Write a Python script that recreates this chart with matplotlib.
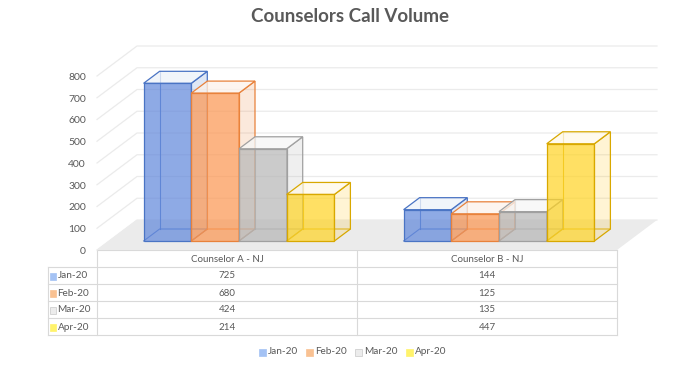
import matplotlib
matplotlib.use('Agg')
import matplotlib.pyplot as plt
from matplotlib.patches import Polygon, Rectangle
from matplotlib.lines import Line2D

# ---------------- data ----------------
categories = ['Counselor A - NJ', 'Counselor B - NJ']
series_names = ['Jan-20', 'Feb-20', 'Mar-20', 'Apr-20']
jan_values = [725, 144]
feb_values = [680, 125]
mar_values = [424, 135]
apr_values = [214, 447]
y_ticks = [0, 100, 200, 300, 400, 500, 600, 700, 800]
title = 'Counselors Call Volume'

series_values = [jan_values, feb_values, mar_values, apr_values]

# ---------------- styles ----------------
base_colors = ['#4472c4', '#ed7d31', '#a5a5a5', '#ffc000']
front_colors = ['#5f86db', '#fc954f', '#b6b6b6', '#ffd422']
edge_draw = ['#4a74c4', '#e8823c', '#a0a0a0', '#d8a800']
key_colors = ['#a4c2f4', '#f9c192', '#ececec', '#fff36b']
key_edges = ['#a4c2f4', '#f9c192', '#c8c8c8', '#fff36b']
TXT = '#595959'
GRID = '#ebebeb'
FONT = 'Lato'
plt.rcParams['font.family'] = [FONT, 'DejaVu Sans']

W, H = 700, 367
fig = plt.figure(figsize=(7, 3.67), dpi=100)

# overlay axes in pixel coordinates (title, table, legend)
ov = fig.add_axes([0, 0, 1, 1])
ov.set_xlim(0, W)
ov.set_ylim(H, 0)
ov.axis('off')

# main axes: front plane of the bars
FRONT_L, FRONT_R = 109, 629
BASE_Y, TOP_Y = 241, 67
ax = fig.add_axes([FRONT_L / W, (H - BASE_Y) / H,
                   (FRONT_R - FRONT_L) / W, (BASE_Y - TOP_Y) / H])
ax.set_xlim(-0.5, len(categories) - 0.5)
ax.set_ylim(y_ticks[0], y_ticks[-1])
ax.axis('off')

px_per_cat = (FRONT_R - FRONT_L) / len(categories)
px_per_val = (BASE_Y - TOP_Y) / (y_ticks[-1] - y_ticks[0])
DEPTH_X, DEPTH_Y = 40.0, 30.0
Z_FRONT, Z_BACK = 0.3, 0.7


def P(x, v, z):
    dxp = DEPTH_X * (z - Z_FRONT)
    dyp = DEPTH_Y * (z - Z_FRONT)
    return (x + dxp / px_per_cat, v + dyp / px_per_val)


xl, xr = -0.5, len(categories) - 0.5

# gridlines (side wall + back wall)
for v in y_ticks:
    pts = [P(xl, v, 0), P(xl, v, 1), P(xr, v, 1)]
    ax.add_line(Line2D([p[0] for p in pts], [p[1] for p in pts],
                       color=GRID, lw=0.9, clip_on=False, zorder=1))

# floor
ax.add_patch(Polygon([P(xl, 0, 0), P(xr, 0, 0), P(xr, 0, 1), P(xl, 0, 1)],
                     closed=True, facecolor='#ebebeb', edgecolor='none',
                     clip_on=False, zorder=2))

# y tick labels at front floor plane
for v in y_ticks:
    x, y = P(xl, v, 0)
    ax.text(x - 11 / px_per_cat, y - 1.5 / px_per_val, str(v), ha='right', va='center',
            fontsize=7.5, color=TXT, clip_on=False)

# bars
bar_w = 47.7 / px_per_cat
n = len(series_values)
z = 3
for ci in range(len(categories)):
    for si in range(n):
        h = series_values[si][ci]
        x0 = ci - n * bar_w / 2 + si * bar_w
        x1 = x0 + bar_w
        ec = edge_draw[si]
        base = base_colors[si]
        # hidden back edges
        for seg in ([P(x0, 0, Z_FRONT), P(x0, 0, Z_BACK), P(x1, 0, Z_BACK)],
                    [P(x0, 0, Z_BACK), P(x0, h, Z_BACK)]):
            ax.add_line(Line2D([p[0] for p in seg], [p[1] for p in seg],
                               color=ec, lw=0.8, alpha=0.85, clip_on=False, zorder=z))
        # right side face
        side = [P(x1, 0, Z_FRONT), P(x1, 0, Z_BACK), P(x1, h, Z_BACK), P(x1, h, Z_FRONT)]
        ax.add_patch(Polygon(side, closed=True, facecolor=base, alpha=0.17,
                             edgecolor='none', clip_on=False, zorder=z))
        ax.add_patch(Polygon(side, closed=True, facecolor='none', edgecolor=ec,
                             lw=0.9, clip_on=False, zorder=z))
        # top face
        top = [P(x0, h, Z_FRONT), P(x1, h, Z_FRONT), P(x1, h, Z_BACK), P(x0, h, Z_BACK)]
        ax.add_patch(Polygon(top, closed=True, facecolor='white', alpha=0.75,
                             edgecolor='none', clip_on=False, zorder=z))
        ax.add_patch(Polygon(top, closed=True, facecolor=base, alpha=0.07,
                             edgecolor='none', clip_on=False, zorder=z))
        ax.add_patch(Polygon(top, closed=True, facecolor='none', edgecolor=ec,
                             lw=0.9, clip_on=False, zorder=z))
        # front face
        ax.add_patch(Rectangle((x0, 0), bar_w, h, facecolor=front_colors[si], alpha=0.7,
                               edgecolor='none', clip_on=False, zorder=z))
        ax.add_patch(Rectangle((x0, 0), bar_w, h, facecolor='none', edgecolor=ec,
                               lw=0.9, clip_on=False, zorder=z))
        z += 1

# ---------------- title ----------------
ov.text(350, 17, title, ha='center', va='center', fontsize=13.5,
        fontweight='bold', color=TXT)

# ---------------- data table ----------------
TB_L, TB_LAB, TB_R = 48, 97, 617
TB_TOP, ROW_H = 250, 17
col_w = (TB_R - TB_LAB) / len(categories)
LINE_C = '#d9d9d9'
nrows = len(series_names)
bottom = TB_TOP + ROW_H * (nrows + 1)
ov.plot([TB_LAB, TB_R], [TB_TOP, TB_TOP], color=LINE_C, lw=0.8)
for r in range(1, nrows + 2):
    y = TB_TOP + r * ROW_H
    ov.plot([TB_L, TB_R], [y, y], color=LINE_C, lw=0.8)
ov.plot([TB_L, TB_L], [TB_TOP + ROW_H, bottom], color=LINE_C, lw=0.8)
for c in range(len(categories) + 1):
    x = TB_LAB + c * col_w
    ov.plot([x, x], [TB_TOP, bottom], color=LINE_C, lw=0.8)
for c, cat in enumerate(categories):
    ov.text(TB_LAB + (c + 0.5) * col_w, TB_TOP + ROW_H / 2 + 0.5, cat,
            ha='center', va='center', fontsize=7, color=TXT)
for r, name in enumerate(series_names):
    yc = TB_TOP + (r + 1.5) * ROW_H + 0.5
    ov.add_patch(Rectangle((TB_L + 1.5, yc - 3.5), 6, 7, facecolor=key_colors[r],
                           edgecolor=key_edges[r], lw=0.5))
    ov.text(TB_L + 9.5, yc, name, ha='left', va='center', fontsize=7.2, color=TXT)
    for c in range(len(categories)):
        ov.text(TB_LAB + (c + 0.5) * col_w, yc, str(series_values[r][c]),
                ha='center', va='center', fontsize=7, color=TXT)

# ---------------- legend ----------------
leg_x = [259, 306, 355, 406]
leg_y = 352
for i, name in enumerate(series_names):
    ov.add_patch(Rectangle((leg_x[i], leg_y - 3.5), 7, 7, facecolor=key_colors[i],
                           edgecolor=key_edges[i], lw=0.5))
    ov.text(leg_x[i] + 9, leg_y, name, ha='left', va='center', fontsize=7.2, color=TXT)

fig.savefig('out.png', dpi=100)
